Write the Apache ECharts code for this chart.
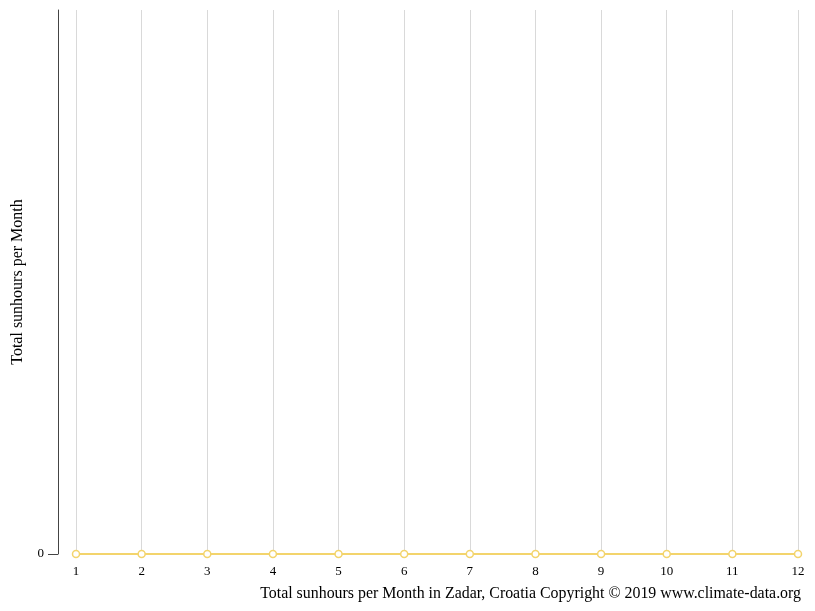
<!DOCTYPE html>
<html>
<head>
<meta charset="utf-8">
<script src="https://cdn.jsdelivr.net/npm/echarts@6/dist/echarts.min.js"></script>
<style>html,body{margin:0;padding:0;background:#fff}#c{width:815px;height:611px}</style>
</head>
<body>
<div id="c"></div>
<script>
var months = ['1','2','3','4','5','6','7','8','9','10','11','12'];
var sunhours = [0,0,0,0,0,0,0,0,0,0,0,0];
var yTicks = [0];
var chart = echarts.init(document.getElementById('c'));
var font = '"Liberation Serif", "Times New Roman", serif';
chart.setOption({
  animation: false,
  title: {
    text: 'Total sunhours per Month in Zadar, Croatia Copyright © 2019 www.climate-data.org',
    right: 9, top: 581,
    textStyle: {fontFamily: font, fontSize: 15.9, fontWeight: 'normal', color: '#000'}
  },
  grid: {left: 76, right: 17, top: 10, bottom: 57},
  xAxis: {
    type: 'category', data: months, boundaryGap: false,
    axisLine: {show: false}, axisTick: {show: false},
    axisLabel: {fontFamily: font, fontSize: 13, color: '#000', margin: 11},
    splitLine: {show: true, lineStyle: {color: '#d9d9d9', width: 1}}
  },
  yAxis: {
    type: 'value', min: 0, max: 1, offset: 18,
    name: 'Total sunhours per Month', nameLocation: 'middle', nameGap: 32,
    nameTextStyle: {fontFamily: font, fontSize: 16, color: '#000'},
    axisLine: {show: true, lineStyle: {color: '#444', width: 1}},
    axisTick: {show: true, length: 10, customValues: yTicks, lineStyle: {color: '#444'}},
    axisLabel: {customValues: yTicks, fontFamily: font, fontSize: 13, color: '#000', margin: 14},
    splitLine: {show: false}
  },
  series: [{
    type: 'line', data: sunhours,
    symbol: 'circle', symbolSize: 7,
    itemStyle: {color: '#fff', borderColor: '#f3d46c', borderWidth: 1.5},
    lineStyle: {color: '#f3d46c', width: 2}
  }]
});
</script>
</body>
</html>
